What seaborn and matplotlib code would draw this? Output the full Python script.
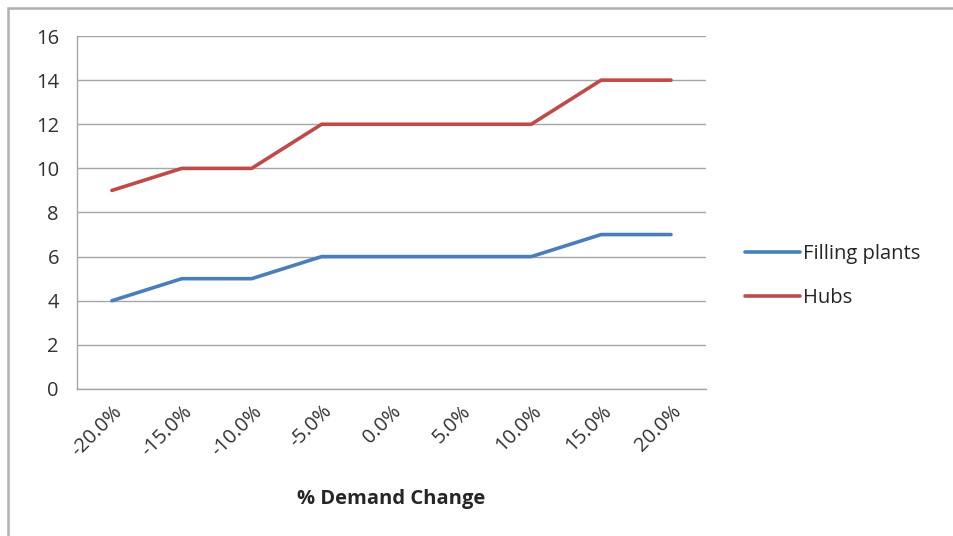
import pandas as pd
import matplotlib.pyplot as plt
import seaborn as sns
from matplotlib.patches import Rectangle
from matplotlib.lines import Line2D

categories = ["-20.0%", "-15.0%", "-10.0%", "-5.0%", "0.0%", "5.0%", "10.0%", "15.0%", "20.0%"]
filling_plants = [4, 5, 5, 6, 6, 6, 6, 7, 7]
hubs = [9, 10, 10, 12, 12, 12, 12, 14, 14]
series_names = ["Filling plants", "Hubs"]
colors = ["#4A7EBB", "#BE4B48"]

df = pd.DataFrame({
    "pos": list(range(len(categories))) * 2,
    "value": filling_plants + hubs,
    "series": [series_names[0]] * len(categories) + [series_names[1]] * len(categories),
})

sns.set_style("white")
plt.rcParams["font.family"] = ["Open Sans", "DejaVu Sans"]

fig = plt.figure(figsize=(9.54, 5.36), dpi=100)
ax = fig.add_axes([0.0807, 0.2743, 0.6593, 0.6585])

sns.lineplot(data=df, x="pos", y="value", hue="series", palette=colors,
             linewidth=2.6, ax=ax, legend=False)

ax.set_xlim(-0.5, len(categories) - 0.5)
ax.set_ylim(0, 16)
ax.set_yticks(range(0, 17, 2))
ax.yaxis.grid(True, color="#a6a6a6", linewidth=1.0)
ax.set_axisbelow(True)

ax.set_xticks(range(len(categories)))
ax.set_xticklabels(categories, rotation=45, ha="right", rotation_mode="anchor",
                   fontsize=14.5, color="#333333")
ax.set_xticks([i - 0.5 for i in range(len(categories) + 1)], minor=True)
ax.tick_params(axis="x", which="major", length=0, pad=9)
ax.tick_params(axis="x", which="minor", length=5, color="#a6a6a6", width=1, direction="out")
ax.tick_params(axis="y", length=7, color="#a6a6a6", width=1, direction="out",
               labelsize=14.5, labelcolor="#333333", pad=6)

for side in ["top", "right"]:
    ax.spines[side].set_visible(False)
for side in ["left", "bottom"]:
    ax.spines[side].set_color("#a6a6a6")
    ax.spines[side].set_linewidth(1.0)

ax.set_xlabel("% Demand Change", fontsize=14.5, fontweight="bold", color="#262626", labelpad=21)
ax.set_ylabel("")

handles = [Line2D([0], [0], color=c, linewidth=2.6) for c in colors]
fig.legend(handles, series_names, loc="center left", bbox_to_anchor=(0.762, 0.485),
           frameon=False, fontsize=14.5, handlelength=2.75, handletextpad=0.15,
           labelspacing=1.2, labelcolor="#262626")

fig.patches.append(Rectangle((8 / 954, -0.1), 1.2, 1 - 8 / 536 + 0.1,
                             transform=fig.transFigure, fill=False,
                             edgecolor="#b0b0b0", linewidth=1.8))

plt.savefig("out.png", dpi=100)
